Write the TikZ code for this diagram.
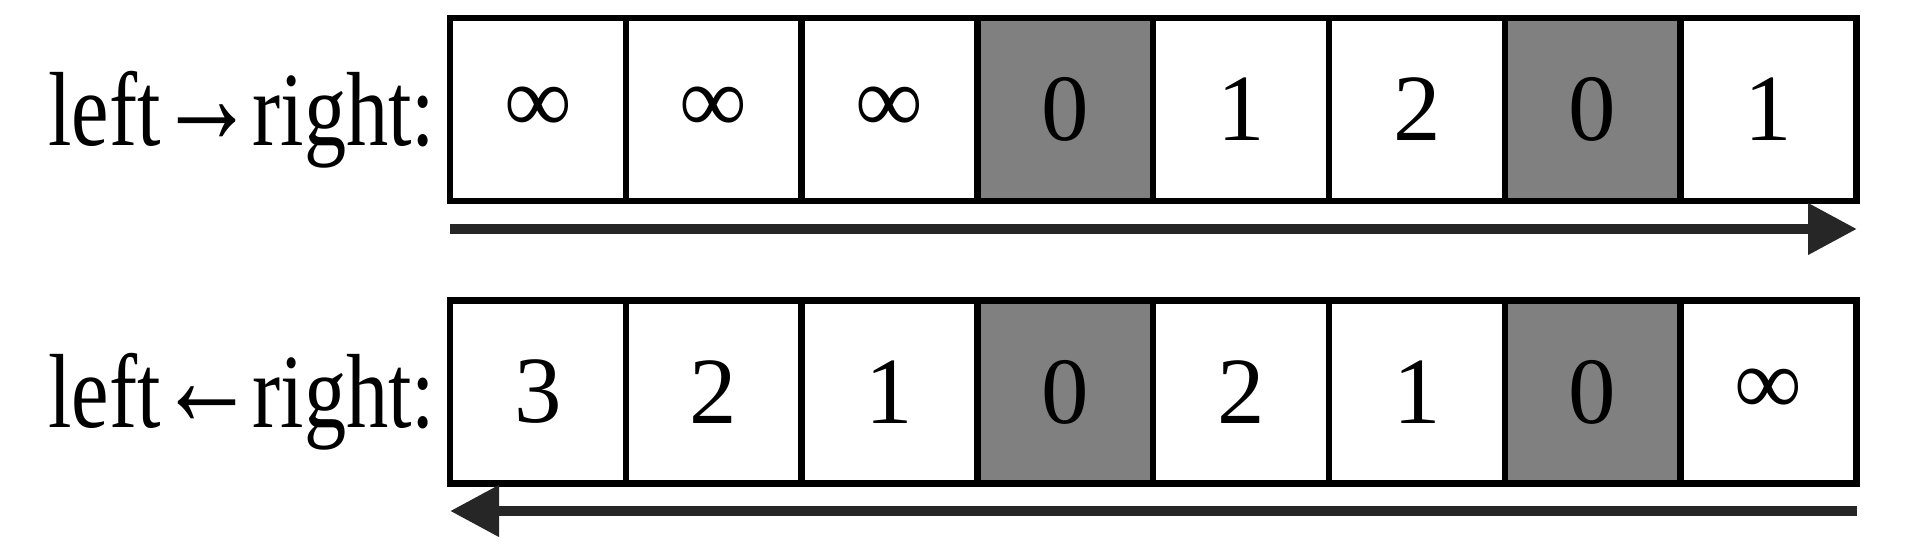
\documentclass[tikz,border=0pt]{standalone}
\usepackage{fontspec}
\usepackage{graphicx}
\setmainfont{Liberation Serif}
\usetikzlibrary{arrows.meta}
\definecolor{cellgray}{HTML}{808080}
\definecolor{arrowgray}{HTML}{262626}
\newcommand{\dirarrow}[1]{\kern-0.03em\raisebox{0.02em}{\scalebox{1.15}[1.3]{\textbf{#1}}}\kern-0.03em}
\newcommand{\narrow}[1]{\scalebox{0.8}[1.0]{#1}}
\tikzset{
  cell/.style={draw, line width=1.8pt, minimum width=1.758cm, minimum height=1.83cm,
    inner sep=0pt, outer sep=0pt, font=\fontsize{27}{30}\selectfont},
  zero/.style={cell, fill=cellgray},
  scan/.style={draw=arrowgray, line width=3pt, -{Triangle[length=0.49cm, width=0.49cm]}},
  rowlabel/.style={anchor=base east, inner sep=0pt, font=\fontsize{30}{32}\selectfont}
}
\begin{document}
\begin{tikzpicture}
\useasboundingbox (0,0) rectangle (19.08,5.6);

\node[rowlabel] (ltr) at (4.36,4.14) {\narrow{left\dirarrow{→}right:}};
\node[rowlabel] (rtl) at (4.36,1.32) {\narrow{left\dirarrow{←}right:}};

\foreach \v/\s [count=\i] in {∞/cell,∞/cell,∞/cell,0/zero,1/cell,2/cell,0/zero,1/cell}
  \node[\s] (t\i) at (4.5+1.758*\i-0.879, 4.505) {\v};

\foreach \v/\s [count=\i] in {3/cell,2/cell,1/cell,0/zero,2/cell,1/cell,0/zero,∞/cell}
  \node[\s] (b\i) at (4.5+1.758*\i-0.879, 1.68) {\v};

\coordinate (tl) at (4.5,3.31);
\coordinate (tr) at (18.57,3.31);
\coordinate (bl) at (4.5,0.49);
\coordinate (br) at (18.57,0.49);

\draw[scan] (tl) -- (tr);
\draw[scan] (br) -- (bl);
\end{tikzpicture}
\end{document}
